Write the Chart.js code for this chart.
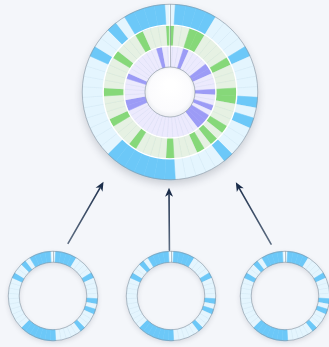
<!DOCTYPE html>
<html><head><meta charset="utf-8">
<script src="https://cdn.jsdelivr.net/npm/chart.js@4.4.0/dist/chart.umd.min.js"></script>
<style>
html,body{margin:0;padding:0;width:329px;height:347px;overflow:hidden;background:#f4f6fa;}
canvas{position:absolute;display:block;}
</style></head><body>
<canvas id="big" width="200" height="200" style="left:70px;top:-8px"></canvas>
<canvas id="s1" width="110" height="110" style="left:-2px;top:241px"></canvas>
<canvas id="s2" width="110" height="110" style="left:116px;top:241px"></canvas>
<canvas id="s3" width="110" height="110" style="left:230px;top:241px"></canvas>
<canvas id="arrows" width="329" height="347" style="left:0;top:0;pointer-events:none"></canvas>
<script>
// ---- data ----
const weeks = ['W1','W2','W3','W4','W5','W6','W7','W8','W9','W10','W11','W12','W13','W14','W15','W16','W17','W18','W19','W20','W21','W22','W23','W24','W25','W26','W27','W28','W29','W30','W31','W32','W33','W34','W35','W36','W37','W38','W39','W40','W41','W42','W43','W44','W45','W46','W47','W48','W49','W50','W51','W52'];
const outerRing = [0,1,1,1,1,0,0,0,0,1, 0,0,0,0,1,0,1,0,0,0, 1,0,0,0,0,0,1,1,1,1, 1,1,1,0,0,0,0,0,0,0, 0,0,0,1,0,0,1,0,1,1, 1,1];
const middleRing = [1,0,0,1,1,0,0,0,0,1, 0,0,0,1,1,0,0,0,1,0, 1,0,1,0,0,0,1,0,0,0, 0,1,0,0,0,1,0,0,0,1, 0,0,0,0,1,0,0,0,1,0, 0,0];
const innerRing = [0,0,0,1,0,0,0,0,1,1, 0,0,0,1,0,0,1,0,1,1, 1,0,0,0,0,0,0,0,0,0, 0,0,0,0,0,0,1,1,0,0, 0,0,1,0,0,0,0,0,0,0, 1,0];
const sourceA = [0,1,1,1,1,0,0,0,0,1, 0,0,0,0,1,0,1,0,0,0, 1,0,0,0,0,0,1,1,1,1, 1,1,1,0,0,0,0,0,0,0, 0,0,0,1,0,0,1,0,1,1, 1,1];
const sourceB = [0,1,1,1,1,0,0,0,0,1, 0,0,0,0,1,0,1,0,0,0, 1,0,0,0,0,0,1,1,1,1, 1,1,1,0,0,0,0,0,0,0, 0,0,0,1,0,0,1,0,1,1, 1,1];
const sourceC = [0,1,1,1,1,0,0,0,0,1, 0,0,0,0,1,0,1,0,0,0, 1,0,0,0,0,0,1,1,1,1, 1,1,1,0,0,0,0,0,0,0, 0,0,0,1,0,0,1,0,1,1, 1,1];

// ---- styles ----
const PALETTE = {
  blue:   {on:'#6cc8f8', off:'#e4f5fe', line:'rgba(160,190,210,0.2)'},
  green:  {on:'#86d879', off:'#e6f1e3', line:'rgba(165,190,165,0.2)'},
  purple: {on:'#9c9bf6', off:'#eceafd', line:'rgba(175,170,215,0.2)'}
};
const segSize = weeks.map(() => 1);
function ring(values, pal){
  return {
    data: segSize,
    backgroundColor: values.map(v => v ? pal.on : pal.off),
    borderColor: values.map(v => v ? pal.on : pal.line),
    borderWidth: 0.5,
    hoverOffset: 0
  };
}

const ringDecor = {
  id: 'ringDecor',
  beforeDatasetsDraw(chart, args, o){
    const ctx = chart.ctx;
    const n = chart.data.datasets.length;
    const a = chart.getDatasetMeta(0).data[0];
    const R = chart.getDatasetMeta(0).controller.outerRadius;
    const rin = chart.getDatasetMeta(n-1).controller.innerRadius;
    ctx.save();
    ctx.beginPath();
    ctx.arc(a.x, a.y, R, 0, Math.PI*2);
    ctx.arc(a.x, a.y, rin, 0, Math.PI*2, true);
    ctx.shadowColor = o.shadowColor; ctx.shadowBlur = o.shadowBlur; ctx.shadowOffsetY = o.shadowOffsetY;
    ctx.fillStyle = '#e4f5fe';
    ctx.fill('evenodd');
    ctx.restore();
  },
  afterDatasetsDraw(chart, args, o){
    const ctx = chart.ctx;
    const n = chart.data.datasets.length;
    const a = chart.getDatasetMeta(0).data[0];
    const R = chart.getDatasetMeta(0).controller.outerRadius;
    const rin = chart.getDatasetMeta(n-1).controller.innerRadius;
    ctx.save();
    ctx.strokeStyle = '#ffffff'; ctx.lineWidth = 1.4;
    for (let i = 1; i < n; i++){
      const r = chart.getDatasetMeta(i).controller.outerRadius;
      ctx.beginPath(); ctx.arc(a.x, a.y, r, 0, Math.PI*2); ctx.stroke();
    }
    if (o.holeFill){
      ctx.beginPath(); ctx.arc(a.x, a.y, rin, 0, Math.PI*2);
      const g = ctx.createRadialGradient(a.x, a.y - rin*0.3, rin*0.2, a.x, a.y, rin);
      g.addColorStop(0, '#ffffff'); g.addColorStop(0.8, '#fbfbfd'); g.addColorStop(1, '#eceef2');
      ctx.fillStyle = g; ctx.fill();
    }
    // marker line at 12 o'clock
    ctx.strokeStyle = 'rgba(140,150,160,0.7)'; ctx.lineWidth = 0.8;
    ctx.beginPath(); ctx.moveTo(a.x + 0.5, a.y - rin); ctx.lineTo(a.x + 0.5, a.y - R); ctx.stroke();
    ctx.strokeStyle = 'rgba(255,255,255,0.8)';
    ctx.beginPath(); ctx.moveTo(a.x - 0.6, a.y - rin); ctx.lineTo(a.x - 0.6, a.y - R); ctx.stroke();
    // edges
    ctx.strokeStyle = 'rgba(130,140,152,0.7)'; ctx.lineWidth = 0.8;
    ctx.beginPath(); ctx.arc(a.x, a.y, R, 0, Math.PI*2); ctx.stroke();
    ctx.beginPath(); ctx.arc(a.x, a.y, rin, 0, Math.PI*2); ctx.stroke();
    ctx.restore();
  }
};

const rot = -180/weeks.length;
function makeChart(id, datasets, cutout, pad, decor){
  return new Chart(document.getElementById(id), {
    type: 'doughnut',
    data: { labels: weeks, datasets },
    options: {
      responsive: false, animation: false, cutout, rotation: rot,
      layout: { padding: pad },
      plugins: { legend: {display:false}, tooltip: {enabled:false}, ringDecor: decor },
      events: []
    },
    plugins: [ringDecor]
  });
}

const big = makeChart('big', [ring(outerRing, PALETTE.blue), ring(middleRing, PALETTE.green), ring(innerRing, PALETTE.purple)],
  '28.5%', 12, {holeFill:true, shadowColor:'rgba(40,50,70,0.22)', shadowBlur:9, shadowOffsetY:4});
const smalls = [
  makeChart('s1', [ring(sourceA, PALETTE.blue)], '75.5%', 10, {holeFill:false, shadowColor:'rgba(40,50,70,0.15)', shadowBlur:5, shadowOffsetY:2}),
  makeChart('s2', [ring(sourceB, PALETTE.blue)], '75.5%', 10, {holeFill:false, shadowColor:'rgba(40,50,70,0.15)', shadowBlur:5, shadowOffsetY:2}),
  makeChart('s3', [ring(sourceC, PALETTE.blue)], '75.5%', 10, {holeFill:false, shadowColor:'rgba(40,50,70,0.15)', shadowBlur:5, shadowOffsetY:2})
];

// ---- arrows (from each small ring toward the big ring) ----
function center(chart){
  const a = chart.getDatasetMeta(0).data[0];
  const c = chart.canvas;
  return {x: c.offsetLeft + a.x, y: c.offsetTop + a.y, r: chart.getDatasetMeta(0).controller.outerRadius};
}
const arrowSpec = [
  {from:0, tailDeg:16,  tailGap:10, tipDeg:216.5, tipGap:24},
  {from:1, tailDeg:-2,  tailGap:1,  tipDeg:180.6, tipGap:8},
  {from:2, tailDeg:-15, tailGap:9,  tipDeg:143.9, tipGap:24}
];
const actx = document.getElementById('arrows').getContext('2d');
const bc = center(big);
function polar(c, deg, gap){
  const t = deg*Math.PI/180, r = c.r + gap;
  return {x: c.x + r*Math.sin(t), y: c.y - r*Math.cos(t)};
}
arrowSpec.forEach(s => {
  const sc = center(smalls[s.from]);
  const p0 = polar(sc, s.tailDeg, s.tailGap);
  const p1 = polar(bc, s.tipDeg, s.tipGap);
  const ang = Math.atan2(p1.y - p0.y, p1.x - p0.x);
  const headLen = 9, headW = 4;
  const hb = {x: p1.x - headLen*Math.cos(ang), y: p1.y - headLen*Math.sin(ang)};
  const g = actx.createLinearGradient(p0.x, p0.y, p1.x, p1.y);
  g.addColorStop(0, '#5d6d82'); g.addColorStop(1, '#1d2f4c');
  actx.strokeStyle = g; actx.lineWidth = 1.6; actx.lineCap = 'round';
  actx.beginPath(); actx.moveTo(p0.x, p0.y); actx.lineTo(hb.x + 2*Math.cos(ang), hb.y + 2*Math.sin(ang)); actx.stroke();
  actx.fillStyle = '#1b2d4a';
  actx.beginPath();
  actx.moveTo(p1.x, p1.y);
  actx.lineTo(hb.x + headW*Math.sin(ang), hb.y - headW*Math.cos(ang));
  actx.lineTo(hb.x + 2.5*Math.cos(ang), hb.y + 2.5*Math.sin(ang));
  actx.lineTo(hb.x - headW*Math.sin(ang), hb.y + headW*Math.cos(ang));
  actx.closePath(); actx.fill();
});
</script>
</body></html>
